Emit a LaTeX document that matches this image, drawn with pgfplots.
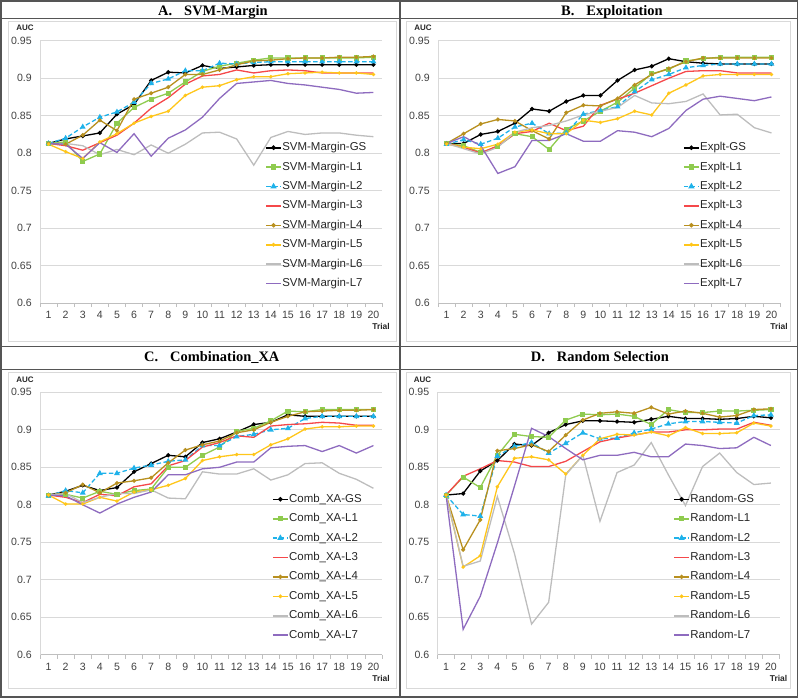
\documentclass[border=0pt]{standalone}
\usepackage{pgfplots}
\pgfplotsset{compat=1.18}
\usepackage{pgfplotstable}
\usepackage{fontspec}
\setmainfont{Liberation Sans}
\newfontfamily\tnr{Liberation Serif}
\definecolor{cL1}{HTML}{8FCB4F}
\definecolor{cL2}{HTML}{1FB2EA}
\definecolor{cL3}{HTML}{F5484A}
\definecolor{cL4}{HTML}{B8901F}
\definecolor{cL5}{HTML}{FFC61A}
\definecolor{cL6}{HTML}{BDBDBD}
\definecolor{cL7}{HTML}{8E6BBF}
\definecolor{gridgray}{HTML}{D9D9D9}
\definecolor{axgray}{HTML}{BFBFBF}
\definecolor{labgray}{HTML}{404040}
\definecolor{framegray}{HTML}{555555}

\pgfplotstableread{
x GS L1 L2 L3 L4 L5 L6 L7
1 0.813 0.813 0.813 0.813 0.813 0.812 0.813 0.813
2 0.819 0.815 0.820 0.810 0.812 0.802 0.813 0.812
3 0.823 0.789 0.835 0.804 0.824 0.793 0.810 0.793
4 0.827 0.799 0.848 0.814 0.844 0.815 0.798 0.814
5 0.852 0.840 0.855 0.824 0.830 0.826 0.805 0.801
6 0.865 0.861 0.868 0.840 0.872 0.840 0.798 0.826
7 0.897 0.872 0.893 0.860 0.880 0.849 0.811 0.796
8 0.908 0.880 0.899 0.874 0.888 0.856 0.800 0.820
9 0.907 0.895 0.910 0.892 0.905 0.877 0.812 0.831
10 0.917 0.909 0.910 0.903 0.905 0.888 0.827 0.848
11 0.913 0.916 0.920 0.905 0.911 0.890 0.828 0.873
12 0.915 0.920 0.919 0.911 0.918 0.898 0.819 0.893
13 0.917 0.924 0.921 0.907 0.923 0.902 0.784 0.895
14 0.918 0.927 0.922 0.910 0.924 0.902 0.821 0.897
15 0.918 0.927 0.922 0.911 0.926 0.906 0.829 0.893
16 0.918 0.927 0.922 0.910 0.927 0.907 0.825 0.891
17 0.918 0.927 0.922 0.907 0.927 0.908 0.827 0.888
18 0.918 0.927 0.922 0.907 0.928 0.907 0.827 0.885
19 0.918 0.927 0.922 0.907 0.928 0.907 0.824 0.880
20 0.918 0.928 0.922 0.907 0.929 0.905 0.822 0.881
}\tabA

\pgfplotstableread{
x GS L1 L2 L3 L4 L5 L6 L7
1 0.813 0.813 0.812 0.813 0.813 0.812 0.813 0.813
2 0.813 0.810 0.818 0.808 0.826 0.808 0.806 0.822
3 0.825 0.801 0.812 0.800 0.839 0.806 0.799 0.810
4 0.829 0.809 0.820 0.810 0.845 0.812 0.808 0.773
5 0.840 0.826 0.835 0.826 0.843 0.828 0.828 0.782
6 0.859 0.822 0.840 0.829 0.830 0.831 0.834 0.817
7 0.856 0.805 0.826 0.840 0.819 0.826 0.837 0.817
8 0.869 0.832 0.827 0.830 0.854 0.826 0.843 0.826
9 0.877 0.843 0.852 0.836 0.864 0.844 0.851 0.816
10 0.877 0.856 0.857 0.864 0.863 0.841 0.856 0.816
11 0.897 0.868 0.862 0.872 0.873 0.846 0.861 0.830
12 0.911 0.887 0.882 0.880 0.891 0.856 0.877 0.828
13 0.916 0.906 0.898 0.890 0.905 0.851 0.867 0.822
14 0.926 0.912 0.905 0.900 0.913 0.880 0.866 0.833
15 0.922 0.923 0.914 0.909 0.922 0.891 0.869 0.857
16 0.920 0.926 0.917 0.910 0.927 0.903 0.879 0.872
17 0.919 0.928 0.919 0.910 0.927 0.905 0.851 0.876
18 0.919 0.928 0.919 0.907 0.927 0.905 0.852 0.873
19 0.919 0.928 0.919 0.907 0.927 0.905 0.834 0.870
20 0.919 0.928 0.919 0.907 0.927 0.905 0.827 0.875
}\tabB

\pgfplotstableread{
x GS L1 L2 L3 L4 L5 L6 L7
1 0.813 0.813 0.812 0.813 0.813 0.813 0.813 0.813
2 0.818 0.814 0.819 0.810 0.816 0.801 0.815 0.812
3 0.826 0.809 0.816 0.803 0.827 0.801 0.803 0.800
4 0.819 0.818 0.842 0.814 0.816 0.810 0.810 0.789
5 0.823 0.814 0.842 0.812 0.829 0.805 0.815 0.801
6 0.844 0.819 0.849 0.824 0.832 0.817 0.815 0.810
7 0.855 0.821 0.853 0.828 0.836 0.820 0.820 0.817
8 0.866 0.850 0.858 0.852 0.856 0.826 0.809 0.840
9 0.864 0.850 0.860 0.859 0.873 0.835 0.808 0.840
10 0.883 0.866 0.879 0.877 0.880 0.859 0.844 0.848
11 0.888 0.877 0.879 0.883 0.885 0.864 0.841 0.850
12 0.897 0.898 0.891 0.892 0.896 0.867 0.841 0.857
13 0.907 0.902 0.894 0.890 0.900 0.867 0.848 0.857
14 0.910 0.912 0.900 0.905 0.910 0.880 0.833 0.876
15 0.920 0.925 0.902 0.907 0.918 0.888 0.840 0.878
16 0.918 0.924 0.915 0.908 0.924 0.901 0.855 0.879
17 0.918 0.927 0.918 0.910 0.925 0.904 0.856 0.871
18 0.918 0.927 0.918 0.909 0.926 0.904 0.842 0.879
19 0.918 0.927 0.918 0.906 0.926 0.905 0.834 0.869
20 0.918 0.927 0.918 0.906 0.927 0.905 0.822 0.879
}\tabC

\pgfplotstableread{
x GS L1 L2 L3 L4 L5 L6 L7
1 0.813 0.813 0.813 0.813 0.813 0.813 0.813 0.813
2 0.815 0.837 0.787 0.838 0.740 0.717 0.718 0.634
3 0.845 0.823 0.785 0.848 0.780 0.732 0.725 0.678
4 0.859 0.866 0.865 0.859 0.872 0.824 0.811 0.749
5 0.881 0.894 0.878 0.857 0.875 0.862 0.735 0.825
6 0.879 0.891 0.883 0.851 0.880 0.864 0.641 0.902
7 0.896 0.890 0.869 0.851 0.871 0.860 0.670 0.891
8 0.907 0.913 0.882 0.858 0.893 0.841 0.840 0.875
9 0.912 0.921 0.896 0.871 0.913 0.866 0.866 0.860
10 0.912 0.920 0.888 0.884 0.922 0.888 0.778 0.866
11 0.911 0.921 0.889 0.889 0.924 0.894 0.843 0.866
12 0.910 0.918 0.896 0.893 0.922 0.893 0.853 0.870
13 0.914 0.907 0.901 0.897 0.930 0.897 0.883 0.864
14 0.918 0.927 0.908 0.897 0.921 0.892 0.840 0.864
15 0.915 0.923 0.911 0.900 0.925 0.903 0.799 0.881
16 0.915 0.923 0.911 0.900 0.922 0.895 0.851 0.879
17 0.914 0.925 0.910 0.901 0.917 0.895 0.869 0.875
18 0.915 0.925 0.909 0.901 0.919 0.896 0.843 0.876
19 0.918 0.926 0.919 0.910 0.927 0.909 0.827 0.890
20 0.916 0.927 0.920 0.906 0.928 0.905 0.829 0.879
}\tabD

\pgfplotsset{
  sGS/.style={black, mark=*, mark size=1.4bp},
  sL1/.style={cL1, mark=square*, mark size=1.9bp},
  sL2/.style={cL2, dash pattern=on 4.5bp off 2.5bp, mark=triangle*, mark size=2.1bp, mark options={solid}},
  sL3/.style={cL3, no marks},
  sL4/.style={cL4, mark=*, mark size=1.3bp},
  sL5/.style={cL5, mark=*, mark size=1.0bp},
  sL6/.style={cL6, no marks},
  sL7/.style={cL7, no marks},
  panel/.style={
    scale only axis, width=342bp, height=262.5bp,
    xmin=0.5, xmax=20.5, ymin=0.6, ymax=0.95,
    axis x line*=bottom, axis y line*=left,
    y axis line style={draw=gridgray, line width=0.6bp, -},
    x axis line style={draw=axgray, line width=0.7bp, -},
    xtick={1,2,3,4,5,6,7,8,9,10,11,12,13,14,15,16,17,18,19,20},
    xticklabels={1,2,3,4,5,6,7,8,9,10,11,12,13,14,15,16,17,18,19,20},
    minor xtick={0.5,1.5,2.5,3.5,4.5,5.5,6.5,7.5,8.5,9.5,10.5,11.5,12.5,13.5,14.5,15.5,16.5,17.5,18.5,19.5,20.5},
    ytick={0.6,0.65,0.7,0.75,0.8,0.85,0.9,0.95},
    yticklabels={0.6,0.65,0.7,0.75,0.8,0.85,0.9,0.95},
    major tick length=0pt, minor tick length=4bp, tick align=outside,
    minor tick style={draw=axgray, line width=0.7bp},
    ymajorgrids, grid style={draw=gridgray, line width=0.7bp},
    tick label style={font=\fontsize{10.6}{11}\selectfont, text=labgray},
    xticklabel style={yshift=-4.5bp},
    yticklabel style={xshift=-4.8bp},
    every axis plot/.append style={line width=1.3bp},
    legend cell align=left,
    legend style={draw=none, fill=none, anchor=north west,
      font=\fontsize{11.5}{12}\selectfont, text=black!85,
      row sep=7.4bp, inner sep=0pt,
      nodes={inner sep=0.5bp, text height=8.5bp, text depth=2.5bp}},
    legend image code/.code={\draw[mark repeat=2,mark phase=2,##1,line width=1.6bp] plot coordinates {(0bp,0bp) (7.5bp,0bp) (15bp,0bp)};},
    clip=false,
  }
}

\newcommand\panelplots[1]{%
  \addplot[sGS] table[x=x,y=GS]{#1};
  \addplot[sL1] table[x=x,y=L1]{#1};
  \addplot[sL2] table[x=x,y=L2]{#1};
  \addplot[sL3] table[x=x,y=L3]{#1};
  \addplot[sL4] table[x=x,y=L4]{#1};
  \addplot[sL5] table[x=x,y=L5]{#1};
  \addplot[sL6] table[x=x,y=L6]{#1};
  \addplot[sL7] table[x=x,y=L7]{#1};
  \node[font=\bfseries\fontsize{8}{8}\selectfont, text=black!85] at ([xshift=-15bp,yshift=13bp]rel axis cs:0,1) {AUC};
  \node[font=\bfseries\fontsize{8.5}{9}\selectfont, text=black!85] at ([xshift=-1bp,yshift=-23.5bp]rel axis cs:1,0) {Trial};
}

\begin{document}
\begin{tikzpicture}
\useasboundingbox (0,0) rectangle (800bp,-699bp);
% chart area borders
\draw[gridgray, line width=0.7bp] (8bp,-21bp) rectangle (396.5bp,-341bp);
\draw[gridgray, line width=0.7bp] (406bp,-21bp) rectangle (790bp,-341bp);
\draw[gridgray, line width=0.7bp] (8bp,-372bp) rectangle (396.5bp,-688bp);
\draw[gridgray, line width=0.7bp] (406bp,-372bp) rectangle (790bp,-688bp);
% frame
\draw[framegray, line width=1.8bp] (0.9bp,-0.9bp) rectangle (797.5bp,-697bp);
\draw[framegray, line width=1.4bp] (400bp,-0.9bp) -- (400bp,-697bp);
\draw[framegray, line width=1.8bp] (0.9bp,-346.5bp) -- (797.5bp,-346.5bp);
\draw[framegray, line width=0.8bp] (0.9bp,-18.5bp) -- (797.5bp,-18.5bp);
\draw[framegray, line width=0.8bp] (0.9bp,-369bp) -- (797.5bp,-369bp);
% titles
\node[anchor=base west, inner sep=0pt, font=\tnr\bfseries\fontsize{14.5}{15}\selectfont] at (158bp,-15bp) {A.\hspace{12bp}SVM-Margin};
\node[anchor=base west, inner sep=0pt, font=\tnr\bfseries\fontsize{14.5}{15}\selectfont] at (561bp,-15bp) {B.\hspace{12bp}Exploitation};
\node[anchor=base west, inner sep=0pt, font=\tnr\bfseries\fontsize{14.5}{15}\selectfont] at (144bp,-361.5bp) {C.\hspace{12bp}Combination\_XA};
\node[anchor=base west, inner sep=0pt, font=\tnr\bfseries\fontsize{14.5}{15}\selectfont] at (530.7bp,-361.5bp) {D.\hspace{12bp}Random Selection};

\begin{axis}[panel, at={(40bp,-40.7bp)}, anchor=north west,
  legend style={at={(0.658,0.616)}}]
\panelplots{\tabA}
\legend{SVM-Margin-GS,SVM-Margin-L1,SVM-Margin-L2,SVM-Margin-L3,SVM-Margin-L4,SVM-Margin-L5,SVM-Margin-L6,SVM-Margin-L7}
\end{axis}

\begin{axis}[panel, at={(438bp,-40.7bp)}, anchor=north west,
  legend style={at={(0.716,0.616)}}]
\panelplots{\tabB}
\legend{Explt-GS,Explt-L1,Explt-L2,Explt-L3,Explt-L4,Explt-L5,Explt-L6,Explt-L7}
\end{axis}

\begin{axis}[panel, at={(40bp,-392.3bp)}, anchor=north west,
  legend style={at={(0.678,0.616)}}]
\panelplots{\tabC}
\legend{Comb\_XA-GS,Comb\_XA-L1,Comb\_XA-L2,Comb\_XA-L3,Comb\_XA-L4,Comb\_XA-L5,Comb\_XA-L6,Comb\_XA-L7}
\end{axis}

\begin{axis}[panel, at={(437.5bp,-392.3bp)}, anchor=north west,
  legend style={at={(0.689,0.616)}}]
\panelplots{\tabD}
\legend{Random-GS,Random-L1,Random-L2,Random-L3,Random-L4,Random-L5,Random-L6,Random-L7}
\end{axis}
\end{tikzpicture}
\end{document}
